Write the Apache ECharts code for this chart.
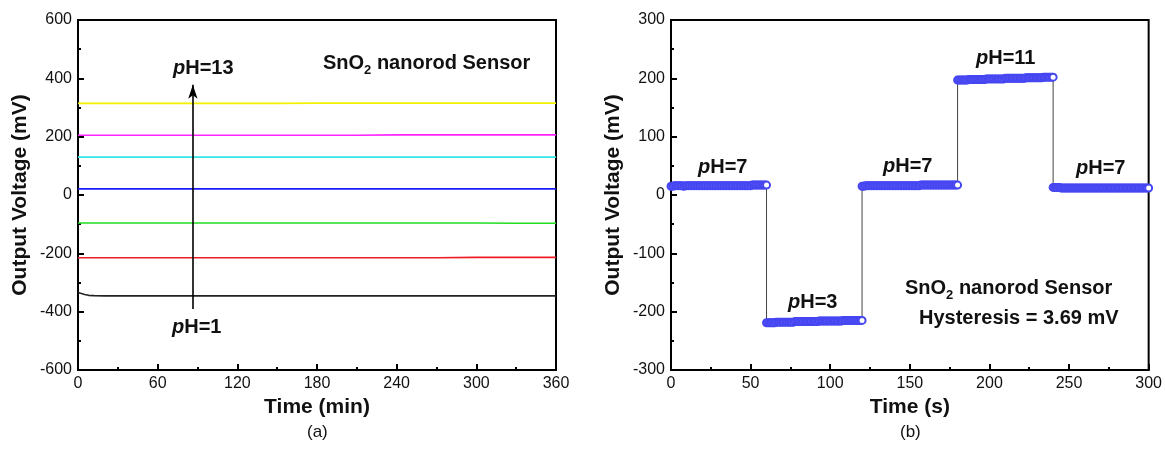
<!DOCTYPE html>
<html>
<head>
<meta charset="utf-8">
<script src="https://cdn.jsdelivr.net/npm/echarts@6/dist/echarts.min.js"></script>
<style>
  html, body { margin: 0; padding: 0; background: #fff; }
  #chart { width: 1165px; height: 449px; }
</style>
</head>
<body>
<div id="chart"></div>
<script>
// (a) long-term stability, one trace per pH buffer
var timeMin = [0, 2, 5, 8, 12, 20, 30, 60, 90, 120, 150, 180, 210, 240, 270, 300, 330, 360];
var phNames = ['pH=1', 'pH=3', 'pH=5', 'pH=7', 'pH=9', 'pH=11', 'pH=13'];
var phColors = ['#222222', '#ee1c24', '#22dd22', '#1a1aff', '#33e6e6', '#ff22ff', '#f2f200'];
var ph1 = [-334, -337, -341, -344, -345, -346, -346, -346, -346, -346, -346, -346, -346, -346, -346, -346, -346, -346];
var ph3 = [-215, -215, -215, -215, -215, -215, -215, -215, -215, -215, -215, -215, -215, -215, -215, -214, -214, -214];
var ph5 = [-96, -96, -96, -96, -96, -96, -96, -96, -96, -96, -96, -96, -96, -96, -96, -96, -97, -97];
var ph7 = [21, 21, 21, 21, 21, 21, 21, 21, 21, 21, 21, 21, 21, 21, 21, 21, 21, 21];
var ph9 = [130, 130, 130, 130, 130, 130, 130, 130, 130, 130, 130, 130, 130, 130, 130, 130, 130, 130];
var ph11 = [205, 205, 205, 205, 205, 205, 205, 205, 205, 205, 205, 205, 205, 206, 206, 206, 206, 206];
var ph13 = [314, 314, 314, 314, 314, 314, 314, 314, 314, 314, 314, 315, 315, 315, 315, 315, 315, 315];
var phTraces = [ph1, ph3, ph5, ph7, ph9, ph11, ph13];

// (b) hysteresis loop 7 -> 3 -> 7 -> 11 -> 7, sampled every 1 s
var segStart = [0, 60, 120, 180, 240];
var sampleStep = 1;
var segA = [15, 15, 16, 16, 16, 16, 16, 16, 15, 16, 16, 16, 16, 16, 16, 16, 16, 16, 16, 16,
            16, 16, 16, 16, 16, 16, 16, 16, 16, 16, 16, 16, 16, 16, 16, 16, 16, 16, 16, 16,
            16, 16, 16, 16, 16, 16, 16, 16, 16, 16, 16, 17, 17, 17, 17, 17, 17, 17, 17, 17, 17];
var segB = [-219, -219, -219, -219, -219, -219, -218, -218, -218, -218, -218, -218, -218, -218, -218, -218, -218, -218, -217, -217,
            -217, -217, -217, -217, -217, -217, -217, -217, -217, -217, -217, -217, -217, -216, -216, -216, -216, -216, -216, -216,
            -216, -216, -216, -216, -216, -216, -216, -216, -215, -215, -215, -215, -215, -215, -215, -215, -215, -215, -215, -215, -215];
var segC = [15, 15, 16, 16, 16, 16, 16, 16, 16, 16, 16, 16, 16, 16, 16, 16, 16, 16, 16, 16,
            16, 16, 16, 16, 16, 16, 16, 16, 16, 16, 16, 16, 16, 16, 16, 16, 16, 17, 17, 17,
            17, 17, 17, 17, 17, 17, 17, 17, 17, 17, 17, 17, 17, 17, 17, 17, 17, 17, 17, 17, 17];
var segD = [197, 197, 197, 197, 197, 197, 197, 198, 198, 198, 198, 198, 198, 198, 198, 198, 198, 198, 199, 199,
            199, 199, 199, 199, 199, 199, 199, 199, 199, 199, 200, 200, 200, 200, 200, 200, 200, 200, 200, 200,
            200, 200, 200, 201, 201, 201, 201, 201, 201, 201, 201, 201, 201, 201, 202, 202, 202, 202, 202, 202, 202];
var segE = [13, 13, 13, 13, 13, 12, 12, 12, 12, 12, 12, 12, 12, 12, 12, 12, 12, 12, 12, 12,
            12, 12, 12, 12, 12, 12, 12, 12, 12, 12, 12, 12, 12, 12, 12, 12, 12, 12, 12, 12,
            12, 12, 12, 12, 12, 12, 12, 12, 12, 12, 12, 12, 12, 12, 12, 12, 12, 12, 12, 12, 12];
var loopSegs = [segA, segB, segC, segD, segE];

var FONT = '"Liberation Sans", Arial, sans-serif';

var chart = echarts.init(document.getElementById('chart'));

function axisStyle(extra) {
    var base = {
        axisLine: { show: true, onZero: false, lineStyle: { color: '#000', width: 2 } },
        axisTick: { show: true, inside: true, length: 6, lineStyle: { color: '#000', width: 2 } },
        minorTick: { show: true, splitNumber: 2, length: 3, lineStyle: { color: '#000', width: 2 } },
        splitLine: { show: false },
        axisLabel: { color: '#111', fontSize: 16, fontFamily: FONT, margin: 6 },
        nameTextStyle: { color: '#111', fontSize: 21, fontWeight: 'bold', fontFamily: FONT },
        nameLocation: 'middle'
    };
    for (var k in extra) base[k] = extra[k];
    return base;
}

var seriesList = [];
phTraces.forEach(function (vals, i) {
    seriesList.push({
        name: phNames[i],
        type: 'line',
        xAxisIndex: 0,
        yAxisIndex: 0,
        showSymbol: false,
        data: timeMin.map(function (t, j) { return [t, vals[j]]; }),
        lineStyle: { color: phColors[i], width: 1.6 },
        z: 3
    });
});
// arrow pH=1 -> pH=13
seriesList[0].markLine = {
    silent: true,
    symbol: ['none', 'arrow'],
    symbolSize: [7, 14],
    label: { show: false },
    lineStyle: { color: '#000', width: 1.6, type: 'solid' },
    data: [[{ coord: [86.5, -391] }, { coord: [86.5, 378] }]]
};

var loopData = [];
loopSegs.forEach(function (vals, s) {
    vals.forEach(function (v, i) {
        loopData.push([segStart[s] + i * sampleStep, v]);
    });
});
seriesList.push({
    name: 'loop',
    type: 'line',
    xAxisIndex: 1,
    yAxisIndex: 1,
    data: loopData,
    symbol: 'emptyCircle',
    symbolSize: 7,
    lineStyle: { color: '#444', width: 1 },
    itemStyle: { color: '#4646f2', borderWidth: 0.7 },
    z: 3
});

function phText(x, y, txt) {
    return {
        type: 'text', left: x, top: y,
        style: {
            text: '{i|p}{b|' + txt + '}',
            rich: {
                i: { fontSize: 20, fontWeight: 'bold', fontStyle: 'italic', fontFamily: FONT, fill: '#111' },
                b: { fontSize: 20, fontWeight: 'bold', fontFamily: FONT, fill: '#111' }
            }
        }
    };
}
function snoText(x, y) {
    return {
        type: 'text', left: x, top: y,
        style: {
            text: '{b|SnO}{s|2}{b| nanorod Sensor}',
            rich: {
                b: { fontSize: 20, fontWeight: 'bold', fontFamily: FONT, fill: '#111', lineHeight: 24 },
                s: { fontSize: 13, fontWeight: 'bold', fontFamily: FONT, fill: '#111', padding: [15, 0, 0, 0] }
            }
        }
    };
}

chart.setOption({
    animation: false,
    backgroundColor: '#fff',
    grid: [
        { left: 78, top: 20, width: 478, height: 350, show: true, borderColor: '#000', borderWidth: 2 },
        { left: 671, top: 20, width: 479, height: 350, show: true, borderColor: '#000', borderWidth: 2 }
    ],
    xAxis: [
        axisStyle({ gridIndex: 0, type: 'value', min: 0, max: 360, interval: 60, name: 'Time (min)', nameGap: 25 }),
        axisStyle({ gridIndex: 1, type: 'value', min: 0, max: 300, interval: 50, name: 'Time (s)', nameGap: 25 })
    ],
    yAxis: [
        axisStyle({ gridIndex: 0, type: 'value', min: -600, max: 600, interval: 200, name: 'Output Voltage (mV)', nameGap: 47 }),
        axisStyle({ gridIndex: 1, type: 'value', min: -300, max: 300, interval: 100, name: 'Output Voltage (mV)', nameGap: 47 })
    ],
    graphic: [
        phText(173, 58, 'H=13'),
        phText(172, 317, 'H=1'),
        snoText(323, 53),
        phText(698, 157, 'H=7'),
        phText(788, 292, 'H=3'),
        phText(883, 156, 'H=7'),
        phText(976, 48, 'H=11'),
        phText(1076, 158, 'H=7'),
        snoText(905, 278),
        {
            type: 'text', left: 919, top: 308,
            style: { text: 'Hysteresis = 3.69 mV', fontSize: 20, fontWeight: 'bold', fontFamily: FONT, fill: '#111' }
        },
        {
            type: 'text', left: 307, top: 424,
            style: { text: '(a)', fontSize: 17, fontFamily: FONT, fill: '#111' }
        },
        {
            type: 'text', left: 900, top: 424,
            style: { text: '(b)', fontSize: 17, fontFamily: FONT, fill: '#111' }
        }
    ],
    series: seriesList
});
</script>
</body>
</html>
